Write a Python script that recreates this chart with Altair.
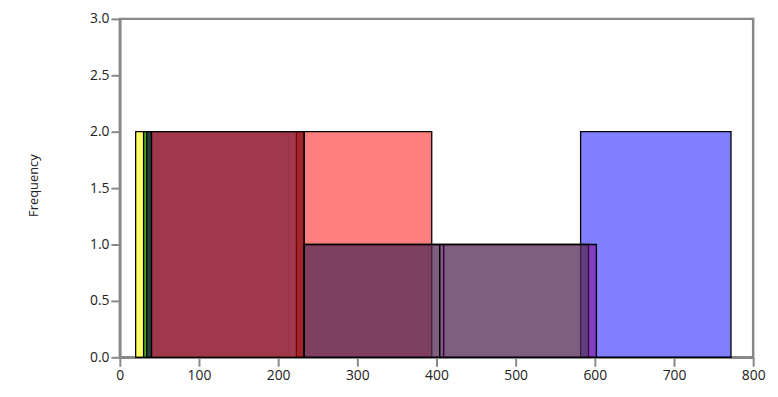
import altair as alt
import pandas as pd

# Layers, bottom to top
series_names = ["Blue", "Yellow", "Green", "Navy", "SteelBlue", "Red", "Green 2", "Purple"]
series_colors = ["#0000ff", "#ffff00", "#008000", "#1e2d41", "#4682b4", "#ff0000", "#008000", "#800080"]
series_opacity = [0.5, 0.6, 0.7, 0.85, 0.75, 0.5, 0.5, 0.5]

# Histogram bins (in drawing order)
bar_series = ["Blue", "Yellow", "Green", "Navy", "SteelBlue", "Red", "Red",
              "Green 2", "Green 2", "Purple", "Purple"]
bar_start = [582, 20, 30, 34, 40, 40, 233, 233, 409, 233, 404]
bar_end = [772, 206, 214, 233, 223, 233, 394, 409, 592, 404, 602]
bar_count = [2, 2, 2, 2, 2, 2, 2, 1, 1, 1, 1]

x_ticks = [0, 100, 200, 300, 400, 500, 600, 700, 800]
y_ticks = [0.0, 0.5, 1.0, 1.5, 2.0, 2.5, 3.0]

color_of = dict(zip(series_names, series_colors))
opacity_of = dict(zip(series_names, series_opacity))

df = pd.DataFrame({
    "series": bar_series,
    "start": bar_start,
    "end": bar_end,
    "count": bar_count,
})
df["fill"] = df["series"].map(color_of)
df["alpha"] = df["series"].map(opacity_of)

chart = alt.Chart(df).mark_rect(stroke="black", strokeWidth=1.3).encode(
    x=alt.X("start:Q", scale=alt.Scale(domain=[0, 800], nice=False),
            axis=alt.Axis(values=x_ticks, title=None, grid=False, labelFlush=False)),
    x2="end:Q",
    y=alt.Y("count:Q", scale=alt.Scale(domain=[0, 3], nice=False),
            axis=alt.Axis(values=y_ticks, format=".1f", title="Frequency", grid=False,
                          labelFlush=False,
                          titleX=-87, titleY=168, titleAngle=270,
                          titleAlign="center", titleBaseline="middle")),
    y2=alt.datum(0),
    fill=alt.Fill("fill:N", scale=None),
    fillOpacity=alt.FillOpacity("alpha:Q", scale=None),
).properties(
    width=640,
    height=342,
    autosize=alt.AutoSizeParams(type="none"),
    padding={"left": 113, "top": 9, "right": 17, "bottom": 30},
).configure_view(
    stroke="#888888", strokeWidth=2.5
).configure_axis(
    domainColor="#888888", domainWidth=2.5,
    tickColor="#888888", tickWidth=2, tickSize=9,
    labelFont="Open Sans", labelFontSize=14, labelColor="#222222", labelPadding=2,
    titleFont="Open Sans", titleFontSize=13, titleFontWeight="normal", titleColor="#222222",
)

chart.save("out.html", embed_options={"renderer": "svg", "actions": False})
